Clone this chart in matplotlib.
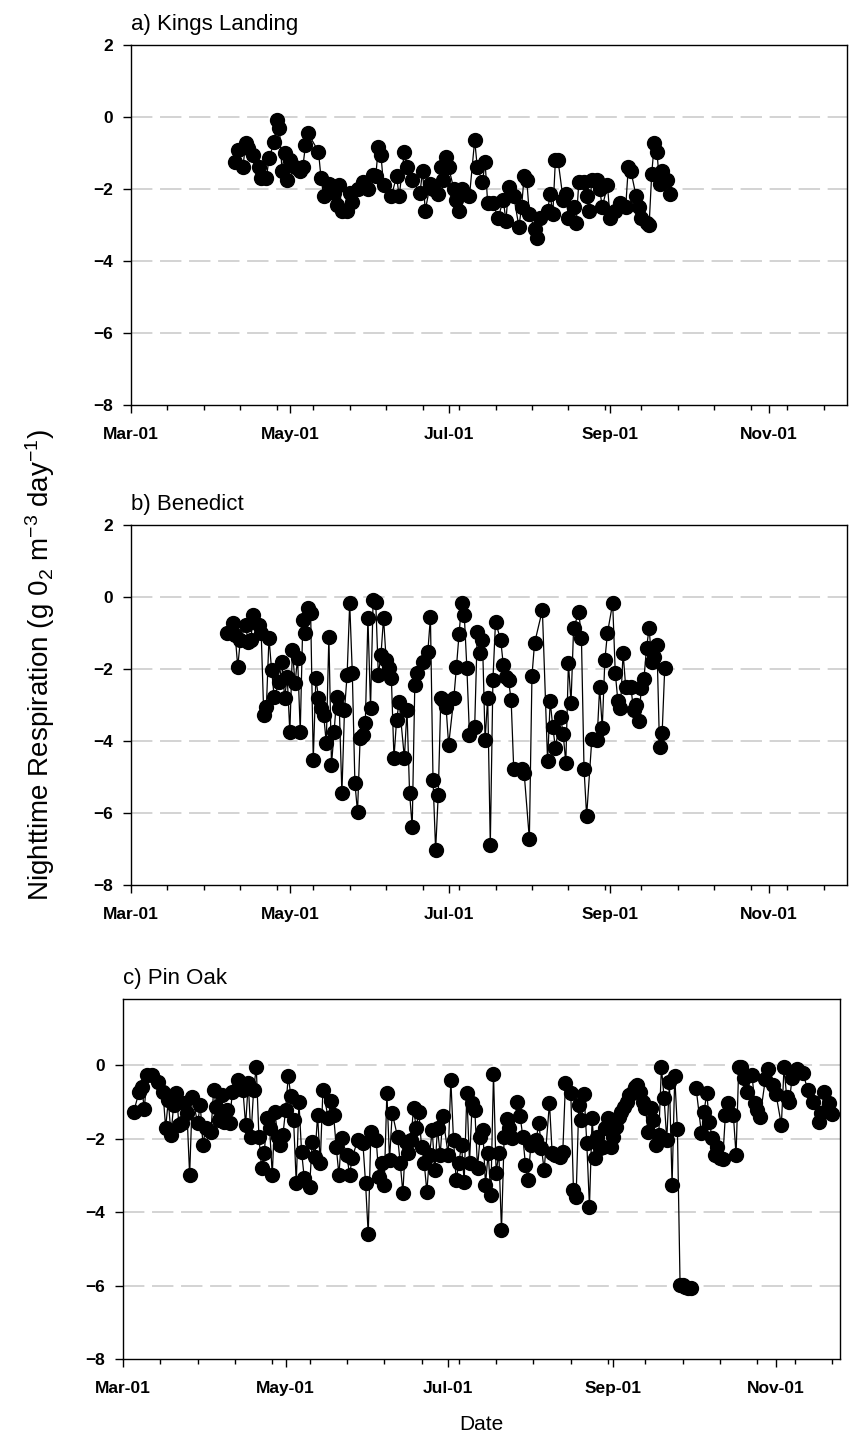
# nighttime respiration at three sites, one panel per site
import numpy as np
import pandas as pd
import matplotlib
matplotlib.use('Agg')
from matplotlib import pyplot as plt
import matplotlib.dates as mdates
from matplotlib.ticker import FixedLocator

plt.rcParams['font.family'] = 'Liberation Sans'
plt.rcParams['font.weight'] = 'bold'
plt.rcParams['mathtext.default'] = 'regular'

# days after Mar-01 and respiration (g O2 m-3 day-1)
kl_days = [40, 41, 43, 44, 45, 47, 49, 50, 52, 53,
           55, 56, 57, 58, 59, 60, 61, 63, 65, 66,
           67, 68, 72, 73, 74, 76, 78, 79, 80, 81,
           83, 84, 85, 87, 89, 91, 93, 94, 95, 96,
           97, 100, 102, 103, 105, 106, 108, 111, 112, 113,
           115, 116, 118, 119, 120, 121, 122, 124, 125, 126,
           127, 130, 132, 133, 135, 136, 137, 139, 141, 143,
           144, 145, 147, 149, 150, 151, 152, 153, 155, 156,
           157, 160, 161, 162, 163, 164, 166, 167, 168, 170,
           171, 172, 174, 175, 176, 177, 179, 180, 181, 183,
           184, 186, 188, 190, 191, 192, 194, 195, 196, 198,
           199, 200, 201, 202, 203, 204, 206, 207]
kl_resp = [-1.25, -0.92, -1.4, -0.73, -0.86, -1.05, -1.4, -1.7, -1.7, -1.15,
           -0.69, -0.08, -0.3, -1.5, -1.0, -1.75, -1.2, -1.4, -1.5, -1.4,
           -0.78, -0.45, -0.96, -1.7, -2.2, -1.85, -2.1, -2.45, -1.9, -2.6,
           -2.6, -2.1, -2.35, -2.0, -1.8, -2.0, -1.6, -1.65, -0.83, -1.05,
           -1.9, -2.2, -1.65, -2.2, -0.96, -1.4, -1.75, -2.1, -1.5, -2.6,
           -1.85, -2.0, -2.15, -1.4, -1.75, -1.1, -1.4, -2.0, -2.3, -2.6,
           -2.0, -2.2, -0.64, -1.4, -1.8, -1.25, -2.4, -2.4, -2.8, -2.3,
           -2.9, -1.95, -2.2, -3.05, -2.5, -1.65, -1.75, -2.7, -3.1, -3.37,
           -2.8, -2.6, -2.15, -2.7, -1.2, -1.2, -2.3, -2.15, -2.8, -2.5,
           -2.95, -1.8, -1.8, -2.2, -2.6, -1.75, -1.75, -2.0, -2.5, -1.9,
           -2.8, -2.6, -2.4, -2.5, -1.4, -1.5, -2.2, -2.5, -2.8, -2.95,
           -3.0, -1.57, -0.73, -0.96, -1.85, -1.5, -1.75, -2.15]

bn_days = [37, 39, 40, 41, 42, 44, 45, 46, 47, 49,
           50, 51, 52, 53, 54, 55, 57, 58, 59, 60,
           61, 62, 63, 64, 65, 66, 67, 68, 69, 70,
           71, 72, 73, 74, 75, 76, 77, 78, 79, 80,
           81, 82, 83, 84, 85, 86, 87, 88, 89, 90,
           91, 92, 93, 94, 95, 96, 97, 98, 99, 100,
           101, 102, 103, 105, 106, 107, 108, 109, 110, 112,
           114, 115, 116, 117, 118, 119, 120, 121, 122, 124,
           125, 126, 127, 128, 129, 130, 132, 133, 134, 135,
           136, 137, 138, 139, 140, 142, 143, 144, 145, 146,
           147, 150, 151, 153, 154, 155, 158, 160, 161, 162,
           163, 165, 166, 167, 168, 169, 170, 172, 173, 174,
           175, 177, 179, 180, 181, 182, 183, 185, 186, 187,
           188, 189, 190, 192, 193, 194, 195, 196, 197, 198,
           199, 200, 201, 202, 203, 204, 205]
bn_resp = [-1.0, -0.72, -1.05, -1.94, -1.2, -0.78, -1.25, -1.2, -0.5, -0.78,
           -1.0, -3.28, -3.05, -1.13, -2.03, -2.78, -2.36, -1.8, -2.8, -2.22,
           -3.75, -1.47, -2.4, -1.7, -3.75, -0.64, -1.0, -0.31, -0.45, -4.53,
           -2.25, -2.8, -3.08, -3.28, -4.06, -1.1, -4.67, -3.75, -2.78, -3.08,
           -5.45, -3.14, -2.17, -0.17, -2.11, -5.17, -5.97, -3.92, -3.83, -3.5,
           -0.58, -3.08, -0.08, -0.14, -2.17, -1.61, -0.58, -1.75, -1.97, -2.25,
           -4.47, -3.42, -2.92, -4.47, -3.14, -5.45, -6.39, -2.44, -2.11, -1.8,
           -1.53, -0.56, -5.08, -7.03, -5.5, -2.8, -2.86, -3.05, -4.11, -2.8,
           -1.94, -1.03, -0.17, -0.5, -1.97, -3.83, -3.61, -0.97, -1.55, -1.2,
           -3.97, -2.8, -6.89, -2.31, -0.69, -1.2, -1.89, -2.22, -2.31, -2.86,
           -4.78, -4.78, -4.89, -6.72, -2.19, -1.28, -0.36, -4.56, -2.89, -3.61,
           -4.19, -3.33, -3.81, -4.61, -1.83, -2.94, -0.86, -0.42, -1.14, -4.78,
           -6.08, -3.94, -3.97, -2.5, -3.64, -1.75, -1.0, -0.17, -2.11, -2.89,
           -3.08, -1.55, -2.5, -2.5, -3.14, -3.0, -3.44, -2.53, -2.28, -1.42,
           -0.86, -1.8, -1.67, -1.33, -4.17, -3.78, -1.97]

po_days = [4, 6, 7, 8, 9, 11, 13, 15, 16, 17,
           18, 19, 20, 21, 22, 23, 24, 25, 26, 28,
           29, 30, 31, 33, 34, 35, 36, 37, 38, 39,
           40, 41, 43, 45, 46, 47, 48, 49, 50, 51,
           52, 53, 54, 55, 56, 57, 58, 59, 60, 61,
           62, 63, 64, 65, 66, 67, 68, 70, 71, 72,
           73, 74, 75, 77, 78, 79, 80, 81, 82, 84,
           85, 86, 88, 90, 91, 92, 93, 95, 96, 97,
           98, 99, 100, 101, 103, 104, 105, 106, 107, 108,
           109, 110, 111, 112, 113, 114, 115, 116, 117, 118,
           119, 120, 122, 123, 124, 125, 126, 127, 128, 129,
           130, 131, 132, 133, 134, 135, 136, 137, 138, 139,
           140, 141, 142, 143, 144, 145, 146, 148, 149, 150,
           151, 152, 153, 155, 156, 157, 158, 160, 161, 162,
           164, 165, 166, 168, 169, 170, 171, 172, 173, 174,
           175, 176, 177, 178, 179, 180, 181, 182, 183, 184,
           185, 186, 187, 188, 189, 190, 191, 192, 193, 194,
           195, 196, 197, 198, 199, 200, 201, 202, 203, 204,
           205, 206, 207, 208, 209, 210, 211, 212, 213, 214,
           215, 217, 218, 219, 220, 221, 222, 223, 224, 225,
           226, 227, 229, 230, 231, 232, 233, 234, 236, 237,
           238, 239, 241, 242, 244, 245, 247, 248, 249, 250,
           251, 253, 255, 257, 259, 261, 262, 263, 265, 266]
po_resp = [-1.27, -0.74, -0.60, -1.19, -0.27, -0.27, -0.47, -0.74, -1.71, -0.95,
           -1.90, -1.09, -0.76, -1.63, -1.57, -1.03, -1.30, -2.99, -0.87, -1.57,
           -1.09, -2.18, -1.71, -1.82, -0.68, -1.14, -1.50, -0.82, -1.55, -1.22,
           -1.57, -0.74, -0.41, -0.68, -1.63, -0.49, -1.95, -0.68, -0.06, -1.95,
           -2.80, -2.39, -1.44, -1.71, -2.99, -1.27, -1.95, -2.18, -1.90, -1.22,
           -0.30, -0.85, -1.50, -3.21, -1.00, -2.36, -3.07, -3.31, -2.09, -2.50,
           -1.36, -2.66, -0.68, -1.44, -0.97, -1.36, -2.22, -2.99, -1.98, -2.45,
           -2.99, -2.53, -2.04, -2.12, -3.21, -4.60, -1.82, -2.04, -3.04, -2.66,
           -3.26, -0.76, -2.58, -1.30, -1.95, -2.66, -3.48, -2.09, -2.39, -2.04,
           -1.17, -1.71, -1.27, -2.22, -2.66, -3.45, -2.45, -1.77, -2.86, -1.71,
           -2.45, -1.39, -2.45, -0.41, -2.04, -3.13, -2.66, -2.18, -3.18, -0.76,
           -2.66, -1.03, -1.22, -2.80, -1.95, -1.77, -3.26, -2.39, -3.54, -0.24,
           -2.93, -2.39, -4.49, -1.95, -1.47, -1.71, -1.98, -1.00, -1.39, -1.95,
           -2.72, -3.13, -2.18, -2.04, -1.57, -2.25, -2.86, -1.03, -2.39, -2.45,
           -2.50, -2.36, -0.49, -0.76, -3.40, -3.58, -1.09, -1.50, -0.79, -2.12,
           -3.86, -1.44, -2.53, -1.95, -2.25, -2.22, -1.71, -1.44, -2.22, -1.95,
           -1.68, -1.41, -1.27, -1.14, -1.00, -0.82, -0.76, -0.60, -0.53, -0.74,
           -1.00, -1.17, -1.82, -1.17, -1.50, -2.18, -1.90, -0.06, -0.89, -2.04,
           -0.47, -3.26, -0.30, -1.74, -5.98, -5.98, -6.03, -6.08, -6.08, np.nan,
           -0.62, -1.85, -1.27, -0.76, -1.55, -1.98, -2.45, -2.22, -2.53, -2.56,
           -1.36, -1.03, -1.36, -2.45, -0.06, -0.06, -0.36, -0.74, -0.27, -1.03,
           -1.22, -1.41, -0.38, -0.11, -0.54, -0.79, -1.63, -0.06, -0.87, -1.00,
           -0.36, -0.11, -0.21, -0.68, -1.00, -1.55, -1.30, -0.74, -1.03, -1.33]

titles = ['a) Kings Landing', 'b) Benedict', 'c) Pin Oak']
start = pd.Timestamp('2001-03-01')


def to_dates(days):
    return start + pd.to_timedelta(days, unit='D')


fig = plt.figure(figsize=(8.49, 14.43), dpi=100)
W, H = 849.0, 1443.0

# axes boxes in pixels: left, top, right, bottom
boxes = [(131, 45, 847, 405), (131, 525, 847, 885), (123, 999, 840, 1359)]
xends = [pd.Timestamp('2001-12-01'), pd.Timestamp('2001-12-01'), pd.Timestamp('2001-11-25')]
ytops = [2, 2, 1.8]
yticks = [[2, 0, -2, -4, -6, -8], [2, 0, -2, -4, -6, -8], [0, -2, -4, -6, -8]]
series = [(kl_days, kl_resp), (bn_days, bn_resp), (po_days, po_resp)]

for i in range(3):
    l, t, r, b = boxes[i]
    ax = fig.add_axes([l / W, 1 - b / H, (r - l) / W, (b - t) / H])
    days, resp = series[i]

    # dashed reference lines
    for yv in [0, -2, -4, -6]:
        ax.axhline(yv, color='#c8c8c8', lw=1.1, ls=(0, (14, 5)), zorder=0)

    ax.plot(to_dates(days), resp, '-o', color='black', lw=0.9,
            ms=10, mfc='black', mec='black', zorder=3)

    ax.set_xlim(start, xends[i])
    ax.set_ylim(-8, ytops[i])
    ax.set_yticks(yticks[i])

    ax.xaxis.set_major_locator(mdates.MonthLocator(bymonth=[3, 5, 7, 9, 11]))
    ax.xaxis.set_major_formatter(mdates.DateFormatter('%b-%y'))
    minor = pd.date_range(start, xends[i], freq='14D')
    ax.xaxis.set_minor_locator(FixedLocator(mdates.date2num(minor)))

    ax.tick_params(which='major', direction='out', length=6, width=1,
                   labelsize=12.5)
    ax.tick_params(axis='x', which='major', pad=10)
    ax.tick_params(axis='y', which='major', pad=7)
    ax.tick_params(which='minor', direction='out', length=3.5, width=1)
    ax.tick_params(axis='y', which='minor', length=0)
    for sp in ax.spines.values():
        sp.set_linewidth(1.0)

    ax.set_title(titles[i], loc='left', fontsize=16, fontweight='normal', pad=11)

fig.text(40 / W, 1 - 665 / H,
         'Nighttime Respiration (g 0$_2$ m$^{-3}$ day$^{-1}$)',
         rotation=90, ha='center', va='center', fontsize=20, fontweight='normal')
fig.text(481 / W, 1 - 1425 / H, 'Date', ha='center', va='center',
         fontsize=15, fontweight='normal')

plt.savefig('out.png', dpi=100)
